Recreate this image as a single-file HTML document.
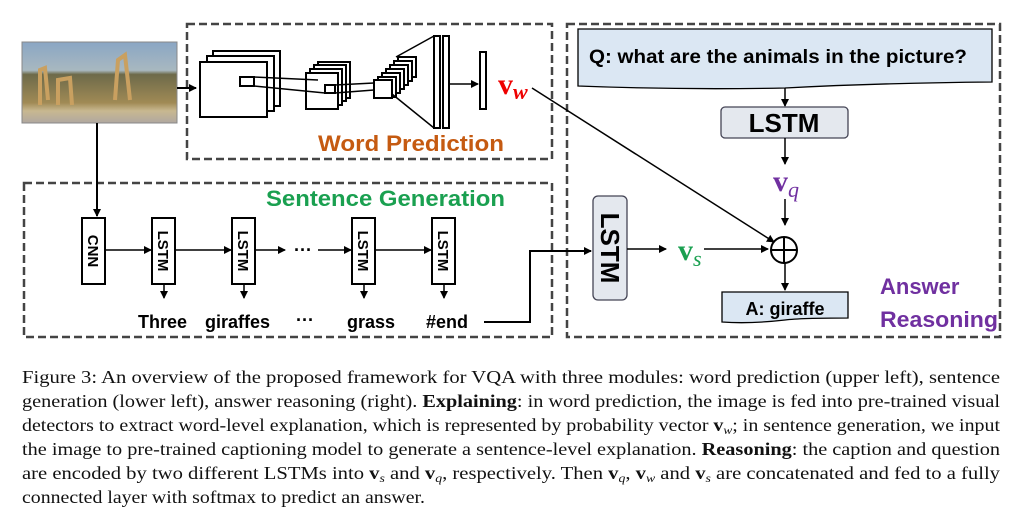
<!DOCTYPE html>
<html><head><meta charset="utf-8"><style>
html,body{margin:0;padding:0;background:#fff;}
svg{display:block;}
.s{font-family:"Liberation Sans",sans-serif;font-weight:bold;}
.c{font-family:"Liberation Serif",serif;font-size:18px;fill:#111;}
</style></head><body>
<svg width="1023" height="524" viewBox="0 0 1023 524" xmlns="http://www.w3.org/2000/svg">
<defs>
<marker id="a" markerWidth="8" markerHeight="8" refX="7" refY="4" orient="auto" markerUnits="userSpaceOnUse"><path d="M0,0 L8,4 L0,8 z" fill="#000"/></marker>
<linearGradient id="sky" x1="0" y1="0" x2="0" y2="1"><stop offset="0" stop-color="#8aa6c4"/><stop offset="0.35" stop-color="#a8b8c0"/><stop offset="0.4" stop-color="#6d6a4a"/><stop offset="0.75" stop-color="#a08a55"/><stop offset="0.85" stop-color="#c8b890"/><stop offset="1" stop-color="#b0a8a0"/></linearGradient>
</defs>
<g fill="none" stroke="#444" stroke-width="2.5" stroke-dasharray="8,4">
<rect x="187" y="24" width="365" height="135"/>
<rect x="24" y="183" width="528" height="154"/>
<rect x="567" y="24" width="433" height="313"/>
</g>
<rect x="22" y="42" width="155" height="81" fill="url(#sky)" stroke="#888"/>
<path d="M40,105 L40,70 L45,68 L48,100 M58,105 L58,80 L70,78 L72,105 M115,100 L118,60 L125,55 L130,100" stroke="#c9a060" stroke-width="4" fill="none"/>
<line x1="177" y1="88" x2="196" y2="88" stroke="#000" stroke-width="2" marker-end="url(#a)"/>
<line x1="97" y1="123" x2="97" y2="216" stroke="#000" stroke-width="2" marker-end="url(#a)"/>
<g fill="#fff" stroke="#000" stroke-width="2">
<rect x="213" y="51" width="67" height="55"/><rect x="207" y="56" width="67" height="55"/><rect x="200" y="62" width="67" height="55"/>
<rect x="240" y="77" width="14" height="9"/>
<rect x="318" y="62" width="32" height="36"/><rect x="314" y="65" width="32" height="36"/><rect x="310" y="69" width="32" height="36"/><rect x="306" y="73" width="32" height="36"/>
<rect x="325" y="85" width="10" height="8"/>
<rect x="398" y="57" width="18" height="20"/><rect x="394" y="61" width="18" height="20"/><rect x="390" y="65" width="18" height="20"/><rect x="386" y="69" width="18" height="20"/><rect x="382" y="73" width="18" height="20"/><rect x="378" y="77" width="18" height="20"/><rect x="374" y="80" width="18" height="18"/>
<rect x="434" y="36" width="6" height="92"/><rect x="443" y="36" width="6" height="92"/>
<rect x="480" y="52" width="6" height="57"/>
</g>
<g stroke="#000" stroke-width="1.5" fill="none">
<line x1="254" y1="77" x2="318" y2="80"/><line x1="254" y1="86" x2="325" y2="93"/>
<line x1="335" y1="85" x2="374" y2="83"/><line x1="335" y1="93" x2="374" y2="90"/>
<line x1="396" y1="57" x2="434" y2="36"/><line x1="392" y1="94" x2="434" y2="128"/>
</g>
<line x1="449" y1="84" x2="478" y2="84" stroke="#000" stroke-width="1.5" marker-end="url(#a)"/>
<text x="498" y="94" font-family="Liberation Serif,serif" font-weight="bold" font-size="30" fill="#e00">v<tspan font-size="22" font-style="italic" dy="5">w</tspan></text>
<text x="318" y="151" class="s" font-size="22" fill="#c55a11" textLength="186" lengthAdjust="spacingAndGlyphs">Word Prediction</text>
<line x1="532" y1="88" x2="774" y2="242" stroke="#000" stroke-width="1.5" marker-end="url(#a)"/>
<text x="266" y="206" class="s" font-size="22" fill="#1aa050" textLength="239" lengthAdjust="spacingAndGlyphs">Sentence Generation</text>
<g fill="#fff" stroke="#000" stroke-width="2">
<rect x="82" y="218" width="23" height="66"/>
<rect x="152" y="218" width="23" height="66"/>
<rect x="232" y="218" width="23" height="66"/>
<rect x="352" y="218" width="23" height="66"/>
<rect x="432" y="218" width="23" height="66"/>
</g>
<g class="s" font-size="15" fill="#000">
<text transform="translate(88,251) rotate(90)" text-anchor="middle">CNN</text>
<text transform="translate(158,251) rotate(90)" text-anchor="middle">LSTM</text>
<text transform="translate(238,251) rotate(90)" text-anchor="middle">LSTM</text>
<text transform="translate(358,251) rotate(90)" text-anchor="middle">LSTM</text>
<text transform="translate(438,251) rotate(90)" text-anchor="middle">LSTM</text>
</g>
<g stroke="#000" stroke-width="1.5" marker-end="url(#a)">
<line x1="105" y1="250" x2="151" y2="250"/>
<line x1="175" y1="250" x2="231" y2="250"/>
<line x1="255" y1="250" x2="285" y2="250"/>
<line x1="318" y1="250" x2="351" y2="250"/>
<line x1="375" y1="250" x2="431" y2="250"/>
<line x1="164" y1="284" x2="164" y2="298"/>
<line x1="244" y1="284" x2="244" y2="298"/>
<line x1="364" y1="284" x2="364" y2="298"/>
<line x1="444" y1="284" x2="444" y2="298"/>
</g>
<text x="294" y="256" class="s" font-size="18">···</text>
<g class="s" font-size="18" fill="#000">
<text x="138" y="328">Three</text>
<text x="205" y="328">giraffes</text>
<text x="296" y="326">···</text>
<text x="347" y="328">grass</text>
<text x="426" y="328">#end</text>
</g>
<polyline points="484,322 530,322 530,251 591,251" fill="none" stroke="#000" stroke-width="2" marker-end="url(#a)"/>
<path d="M578,29 L992,29 L992,82 Q880,83 785,88 Q680,90 578,86 Z" fill="#dbe7f3" stroke="#000" stroke-width="1.3"/>
<text x="589" y="63" class="s" font-size="19" fill="#000" textLength="378" lengthAdjust="spacingAndGlyphs">Q: what are the animals in the picture?</text>
<line x1="785" y1="88" x2="785" y2="106" stroke="#000" stroke-width="1.5" marker-end="url(#a)"/>
<rect x="721" y="107" width="127" height="31" rx="4" fill="#e4e8ee" stroke="#445" stroke-width="1.3"/>
<text x="784" y="132" class="s" font-size="26" text-anchor="middle">LSTM</text>
<line x1="785" y1="138" x2="785" y2="164" stroke="#000" stroke-width="1.5" marker-end="url(#a)"/>
<text x="773" y="191" font-family="Liberation Serif,serif" font-weight="bold" font-size="30" fill="#7030a0">v<tspan font-size="22" font-style="italic" dy="6" font-weight="normal">q</tspan></text>
<line x1="785" y1="199" x2="785" y2="225" stroke="#000" stroke-width="1.5" marker-end="url(#a)"/>
<circle cx="784" cy="250" r="13" fill="none" stroke="#000" stroke-width="2"/>
<line x1="771" y1="250" x2="797" y2="250" stroke="#000" stroke-width="2"/>
<line x1="784" y1="237" x2="784" y2="263" stroke="#000" stroke-width="2"/>
<rect x="593" y="196" width="34" height="104" rx="5" fill="#e4e8ee" stroke="#445" stroke-width="1.3"/>
<text transform="translate(601,248) rotate(90)" class="s" font-size="26" text-anchor="middle">LSTM</text>
<line x1="627" y1="249" x2="666" y2="249" stroke="#000" stroke-width="1.5" marker-end="url(#a)"/>
<text x="678" y="260" font-family="Liberation Serif,serif" font-weight="bold" font-size="30" fill="#1aa050">v<tspan font-size="22" font-style="italic" dy="6" font-weight="normal">s</tspan></text>
<line x1="704" y1="249" x2="768" y2="249" stroke="#000" stroke-width="1.5" marker-end="url(#a)"/>
<line x1="785" y1="263" x2="785" y2="290" stroke="#000" stroke-width="1.5" marker-end="url(#a)"/>
<path d="M722,292 L848,292 L848,318 Q800,318 785,320 Q750,324 722,322 Z" fill="#dbe7f3" stroke="#000" stroke-width="1.3"/>
<text x="785" y="315" class="s" font-size="18" text-anchor="middle">A: giraffe</text>
<text x="880" y="294" class="s" font-size="22" fill="#7030a0">Answer</text>
<text x="880" y="327" class="s" font-size="22" fill="#7030a0" textLength="118" lengthAdjust="spacingAndGlyphs">Reasoning</text>
<g class="c">
<text x="22" y="383" textLength="978" lengthAdjust="spacingAndGlyphs">Figure 3:  An overview of the proposed framework for VQA with three modules:  word prediction (upper left), sentence</text>
<text x="22" y="407" textLength="978" lengthAdjust="spacingAndGlyphs">generation (lower left), answer reasoning (right).  <tspan font-weight="bold">Explaining</tspan>: in word prediction, the image is fed into pre-trained visual</text>
<text x="22" y="431" textLength="978" lengthAdjust="spacingAndGlyphs">detectors to extract word-level explanation, which is represented by probability vector <tspan font-weight="bold">v</tspan><tspan font-style="italic" font-size="12" dy="3">w</tspan><tspan dy="-3">; in sentence generation, we input</tspan></text>
<text x="22" y="455" textLength="978" lengthAdjust="spacingAndGlyphs">the image to pre-trained captioning model to generate a sentence-level explanation.  <tspan font-weight="bold">Reasoning</tspan>: the caption and question</text>
<text x="22" y="479" textLength="978" lengthAdjust="spacingAndGlyphs">are encoded by two different LSTMs into <tspan font-weight="bold">v</tspan><tspan font-style="italic" font-size="12" dy="3">s</tspan><tspan dy="-3"> and </tspan><tspan font-weight="bold">v</tspan><tspan font-style="italic" font-size="12" dy="3">q</tspan><tspan dy="-3">, respectively. Then </tspan><tspan font-weight="bold">v</tspan><tspan font-style="italic" font-size="12" dy="3">q</tspan><tspan dy="-3">, </tspan><tspan font-weight="bold">v</tspan><tspan font-style="italic" font-size="12" dy="3">w</tspan><tspan dy="-3"> and </tspan><tspan font-weight="bold">v</tspan><tspan font-style="italic" font-size="12" dy="3">s</tspan><tspan dy="-3"> are concatenated and fed to a fully</tspan></text>
<text x="22" y="503" textLength="403" lengthAdjust="spacingAndGlyphs">connected layer with softmax to predict an answer.</text>
</g>
</svg>
</body></html>
